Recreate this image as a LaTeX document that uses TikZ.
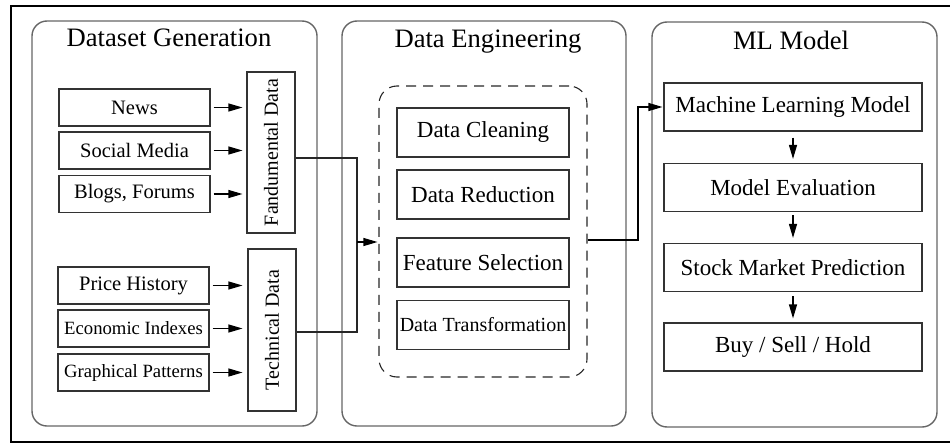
\documentclass[tikz,border=0pt]{standalone}
\usepackage{fontspec}
\setmainfont{LiberationSerif}[Extension=.ttf, UprightFont=*-Regular, BoldFont=*-Bold, ItalicFont=*-Italic, BoldItalicFont=*-BoldItalic]
\usetikzlibrary{arrows.meta,calc}
\tikzset{
  panel/.style={draw=black!60, line width=1.4pt, rounded corners=15pt},
  box/.style={draw=black!80, line width=1.1pt, inner sep=0pt, minimum height=37pt, minimum width=151pt},
  srcfont/.style={font=\fontsize{20.5}{24}\selectfont},
  smallfont/.style={font=\fontsize{18.7}{22}\selectfont},
  engbox/.style={box, minimum width=172pt, minimum height=49pt, font=\fontsize{23}{27}\selectfont},
  mlbox/.style={box, minimum width=258pt, minimum height=48pt, font=\fontsize{23}{27}\selectfont},
  vbox/.style={box, rotate=90, minimum height=48pt, font=\fontsize{20}{24}\selectfont},
  ttl/.style={anchor=base, inner sep=0pt, font=\fontsize{26.6}{30}\selectfont},
  arr/.style={draw=black, line width=1.1pt, -{Triangle[length=14pt,width=8pt]}},
  conn/.style={draw=black!85, line width=1.1pt},
}
\begin{document}
\begin{tikzpicture}[x=1pt,y=-1pt]
\useasboundingbox (0,0) rectangle (950,444);
% outer frame (right side outside the picture)
\draw[line width=2.6pt] (11,6) rectangle (960,442);
% panels
\draw[panel] (32,21) rectangle (317,426);
\draw[panel] (342,21) rectangle (626,426);
\draw[panel] (652,22) rectangle (937,427);
% titles
\node[ttl] (t1) at (169,47) {Dataset Generation};
\node[ttl] (t2) at (488,48) {Data Engineering};
\node[ttl] (t3) at (791,50) {ML Model};
% sources
\node[box, srcfont] (news) at (134.5,107.5) {News};
\node[box, srcfont] (social) at (134.5,150.5) {Social Media};
\node[box, srcfont] (blogs) at (134.5,194) {Blogs, Forums};
\node[box, srcfont] (price) at (133.5,285.5) {Price History};
\node[box, smallfont] (econ) at (133.5,328.5) {Economic Indexes};
\node[box, smallfont] (graph) at (133.5,372.5) {Graphical Patterns};
% fundamental / technical
\node[vbox, minimum width=161pt] (fund) at (271,152.5) {Fandumental Data};
\node[vbox, minimum width=162pt] (tech) at (272,330) {Technical Data};
% arrows into fund/tech
\foreach \s in {news,social,blogs}
  \draw[arr, shorten <=3pt, shorten >=4pt] (\s.east) -- (\s.east -| fund.north);
\foreach \s in {price,econ,graph}
  \draw[arr, shorten <=3pt, shorten >=5pt] (\s.east) -- (\s.east -| tech.north);
% dashed group
\node[draw=black!85, line width=1.1pt, dash pattern=on 10pt off 7pt, rounded corners=18pt,
      minimum width=208pt, minimum height=291pt, inner sep=0pt] (grp) at (483,231.5) {};
\node[engbox] (clean) at (483,132.5) {Data Cleaning};
\node[engbox] (red) at (483,194.5) {Data Reduction};
\node[engbox] (feat) at (483,262.5) {Feature Selection};
\node[engbox, font=\fontsize{20}{24}\selectfont] (trans) at (483,325) {Data Transformation};
% connectors to group
\coordinate (j1) at (357,158);
\coordinate (j2) at (357,332);
\coordinate (jm) at (357,242);
\draw[conn] (fund.south |- j1) -- (j1) -- (j2) -- (tech.south |- j2);
\draw[arr, shorten >=1pt] (jm) -- (grp.west |- jm);
% ML boxes
\node[mlbox] (mlm) at (793,107) {Machine Learning Model};
\node[mlbox] (eval) at (793,187.5) {Model Evaluation};
\node[mlbox] (pred) at (793,267.5) {Stock Market Prediction};
\node[mlbox] (bsh) at (793,347) {Buy / Sell / Hold};
% connector group -> ML
\coordinate (k1) at (638,240);
\draw[arr, shorten >=1pt] (grp.east |- k1) -- (k1) |- (mlm.west);
% ML chain
\draw[arr, shorten <=6pt, shorten >=4pt] (mlm.south) -- (eval.north);
\draw[arr, shorten <=3pt, shorten >=5pt] (eval.south) -- (pred.north);
\draw[arr, shorten <=4pt, shorten >=4pt] (pred.south) -- (bsh.north);
\end{tikzpicture}
\end{document}
